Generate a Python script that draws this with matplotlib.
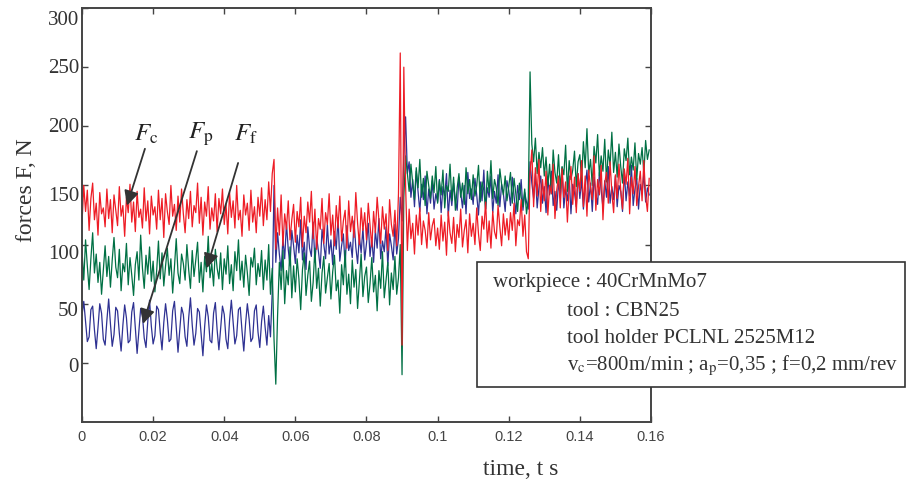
import numpy as np
import matplotlib
matplotlib.use("Agg")
import matplotlib.pyplot as plt
from matplotlib.patches import Rectangle
from matplotlib.transforms import offset_copy

plt.rcParams['font.family'] = ['Liberation Serif', 'DejaVu Serif']
plt.rcParams['mathtext.fontset'] = 'stix'

# sample spacing of the recorded signals, s
dt = 0.0005

# cutting force F_c (red), N
fc = [118, 150, 128, 146, 112, 139, 152, 121, 135, 108, 144, 126, 131, 115, 147, 122, 138, 110, 142, 129,
      116, 149, 124, 133, 107, 140, 127, 151, 119, 136, 111, 145, 123, 130, 114, 148, 120, 137, 109, 141,
      125, 132, 113, 146, 121, 139, 106, 143, 128, 117, 150, 124, 134, 112, 141, 119, 147, 126, 110, 138,
      122, 145, 115, 133, 127, 152, 118, 140, 108, 136, 124, 149, 113, 131, 120, 143, 111, 139, 126, 147,
      117, 134, 109, 144, 123, 137, 114, 150, 121, 129, 107, 142, 125, 135, 112, 146, 119, 132, 110, 140,
      124, 148, 116, 138, 121, 153, 128, 160, 172, 96, 131, 108, 142, 99, 126, 113, 137, 104, 121, 134,
      102, 128, 115, 140, 98, 124, 110, 136, 119, 145, 105, 130, 96, 122, 113, 139, 101, 127, 117, 143,
      108, 125, 99, 133, 114, 141, 103, 120, 129, 97, 137, 111, 124, 106, 144, 118, 100, 131, 112, 127,
      104, 135, 116, 98, 128, 110, 140, 121, 101, 132, 113, 126, 95, 138, 117, 107, 129, 99, 143, 262,
      15, 250, 150, 95, 130, 105, 118, 92, 125, 108, 131, 100, 120, 112, 97, 127, 104, 116, 122, 99,
      114, 96, 125, 103, 119, 91, 128, 110, 101, 123, 94, 117, 106, 130, 98, 112, 121, 93, 126, 107,
      118, 100, 131, 109, 95, 124, 113, 136, 102, 120, 97, 128, 111, 105, 133, 115, 99, 126, 108, 122,
      104, 127, 112, 135, 99, 121, 116, 138, 107, 125, 94, 88, 160, 180, 132, 165, 141, 172, 128, 155,
      137, 162, 125, 150, 143, 168, 122, 146, 158, 131, 164, 140, 153, 119, 149, 166, 134, 157, 127, 160,
      145, 171, 132, 158, 124, 163, 148, 138, 175, 129, 155, 142, 167, 121, 152, 161, 135, 170, 144, 127,
      159, 139, 168, 146, 130, 164, 151, 173, 126, 157, 143, 166, 133, 149, 162, 137, 171, 141, 128, 156]

# passive force F_p (blue), N
fp = [40, 52, 35, 18, 22, 45, 48, 28, 12, 30, 50, 42, 20, 15, 36, 54, 33, 14, 24, 47,
      44, 25, 10, 32, 49, 38, 17, 19, 43, 51, 29, 8, 27, 46, 40, 21, 13, 35, 53, 31,
      16, 23, 48, 45, 26, 11, 34, 50, 37, 18, 20, 44, 52, 30, 9, 28, 47, 41, 22, 14,
      38, 55, 32, 15, 25, 46, 43, 24, 6, 31, 49, 39, 19, 17, 42, 51, 28, 11, 29, 48,
      41, 20, 12, 36, 53, 34, 16, 23, 45, 47, 27, 10, 33, 50, 37, 18, 21, 44, 49, 26,
      13, 35, 48, 30, 15, 40, 22, 60, 150, 85, 110, 92, 78, 105, 88, 118, 96, 82, 112, 99,
      84, 108, 93, 121, 87, 102, 79, 115, 97, 90, 119, 85, 106, 94, 80, 113, 100, 88, 117, 92,
      104, 83, 111, 96, 123, 86, 99, 109, 81, 116, 95, 102, 89, 120, 98, 84, 107, 93, 114, 87,
      101, 118, 90, 106, 85, 112, 97, 122, 88, 103, 94, 115, 82, 109, 99, 87, 117, 92, 105, 140,
      120, 175, 208, 160, 170, 140, 155, 132, 162, 145, 128, 151, 138, 158, 126, 147, 135, 154, 130, 143,
      136, 155, 127, 149, 141, 160, 124, 146, 133, 152, 138, 129, 157, 144, 131, 150, 126, 161, 139, 147,
      134, 156, 142, 125, 153, 137, 163, 130, 148, 140, 158, 127, 145, 135, 159, 132, 151, 143, 128, 154,
      146, 133, 157, 141, 126, 150, 138, 155, 129, 144, 136, 130, 170, 152, 139, 160, 131, 148, 158, 135,
      149, 127, 156, 142, 162, 133, 145, 129, 153, 140, 165, 131, 147, 137, 158, 126, 151, 144, 132, 160,
      139, 155, 130, 148, 163, 136, 152, 128, 157, 143, 134, 161, 146, 131, 154, 140, 166, 135, 149, 138,
      158, 132, 150, 145, 128, 162, 137, 153, 141, 167, 133, 147, 156, 130, 151, 143, 160, 136, 148, 142]

# feed force F_f (green), N
ff = [95, 70, 104, 82, 62, 88, 110, 76, 92, 68, 85, 58, 79, 99, 73, 90, 64, 87, 106, 81,
      72, 96, 61, 84, 77, 101, 66, 89, 74, 57, 83, 94, 70, 108, 80, 63, 91, 75, 98, 69,
      86, 60, 78, 103, 71, 93, 65, 82, 97, 74, 88, 59, 81, 105, 76, 67, 92, 84, 70, 100,
      79, 63, 95, 73, 87, 102, 68, 85, 60, 90, 77, 107, 72, 84, 65, 96, 80, 71, 93, 62,
      88, 75, 99, 67, 83, 61, 94, 78, 104, 70, 86, 64, 91, 76, 57, 89, 81, 97, 66, 84,
      73, 95, 62, 87, 70, 100, 58, 80, 20, -18, 40, 85, 62, 95, 50, 78, 66, 98, 55, 82,
      60, 88, 71, 45, 79, 93, 57, 74, 86, 52, 68, 97, 63, 80, 48, 76, 90, 59, 72, 84,
      54, 77, 91, 61, 70, 42, 83, 66, 95, 58, 75, 50, 87, 64, 79, 46, 69, 92, 56, 73,
      81, 51, 67, 89, 60, 74, 44, 78, 63, 94, 55, 70, 85, 49, 76, 62, 90, 58, 72, 100,
      -10, 140, 175, 160, 145, 168, 152, 138, 165, 148, 172, 140, 156, 133, 162, 150, 139, 158, 144, 166,
      135, 154, 142, 163, 131, 150, 145, 168, 137, 157, 129, 148, 160, 140, 152, 134, 165, 143, 155, 138,
      159, 141, 150, 167, 136, 153, 146, 130, 162, 144, 171, 139, 155, 148, 133, 164, 151, 142, 158, 137,
      149, 161, 135, 156, 143, 128, 152, 140, 132, 147, 126, 138, 246, 185, 170, 190, 160, 178, 165, 182,
      158, 174, 150, 168, 143, 180, 161, 152, 176, 147, 166, 159, 184, 145, 171, 155, 163, 179, 149, 170,
      176, 154, 187, 165, 198, 160, 172, 150, 183, 169, 193, 158, 175, 162, 189, 153, 180, 167, 195, 161,
      178, 157, 185, 166, 152, 181, 171, 190, 159, 174, 163, 186, 155, 177, 168, 182, 160, 188, 172, 180]

x_ticks = [0, 0.02, 0.04, 0.06, 0.08, 0.1, 0.12, 0.14, 0.16]
x_labels = ['0', '0.02', '0.04', '0.06', '0.08', '0.1', '0.12', '0.14', '0.16']
y_ticks = [0, 50, 100, 150, 200, 250, 300]

info_lines = ['workpiece : 40CrMnMo7',
              'tool : CBN25',
              'tool holder PCLNL 2525M12',
              r'v$_{\rm c}$=800m/min ; a$_{\rm p}$=0,35 ; f=0,2 mm/rev']

t = np.arange(len(fc)) * dt

fig = plt.figure(figsize=(9.06, 4.85), dpi=100)
ax = fig.add_axes([0.0905, 0.1278, 0.628, 0.8536])

ax.plot(t, fp, color='#2e3192', lw=0.9)
ax.plot(t, ff, color='#007044', lw=0.9)
ax.plot(t, fc, color='#ee1c25', lw=0.9)

ax.set_xlim(0, 0.16)
ax.set_ylim(-50, 300)
ax.set_xticks(x_ticks)
ax.set_xticklabels(x_labels, family='Liberation Sans', fontsize=10.5, color='#444444')
ax.set_yticks(y_ticks)
ax.set_yticklabels([])
ax.tick_params(direction='in', length=4, width=1, color='#444444',
               top=True, right=True)
ax.tick_params(axis='x', pad=5)
for s in ax.spines.values():
    s.set_color('#444444')
    s.set_linewidth(1.4)

# y labels in the original sit a little below some of their ticks (pixels)
label_drop = [4, 7, 9, 10, 0, 0, 11]
for v, d in zip(y_ticks, label_drop):
    tr = offset_copy(ax.get_yaxis_transform(), fig=fig, x=-3, y=-d, units='dots')
    ax.text(0, v, str(v), transform=tr, fontsize=15, ha='right', va='center',
            color='#333333')

# force labels with arrows
arrow_kw = dict(arrowstyle='-|>', mutation_scale=22, color='#333333', lw=1.3,
                shrinkA=0, shrinkB=0)
ax.annotate('', xy=(0.01265, 133), xytext=(0.0177, 181), arrowprops=arrow_kw)
ax.annotate('', xy=(0.01715, 33), xytext=(0.0323, 179), arrowprops=arrow_kw)
ax.annotate('', xy=(0.0351, 80), xytext=(0.0439, 169), arrowprops=arrow_kw)
ax.text(0.0180, 194, r'$F_{\rm c}$', fontsize=18, ha='center', va='center', color='#222222')
ax.text(0.0333, 194, r'$F_{\rm p}$', fontsize=18, ha='center', va='center', color='#222222')
ax.text(0.0460, 194, r'$F_{\rm f}$', fontsize=18, ha='center', va='center', color='#222222')

fig.text(27 / 906, 1 - 190 / 485, 'forces F, N', rotation=90, fontsize=17,
         ha='center', va='center', color='#333333')
fig.text(521 / 906, 1 - 470 / 485, 'time, t s', fontsize=17,
         ha='center', va='center', color='#333333')

# info box
fig.add_artist(Rectangle((477 / 906, 1 - 388 / 485), 428 / 906, 125 / 485,
                         transform=fig.transFigure, facecolor='white',
                         edgecolor='#333333', lw=1.2))
fig.text(493 / 906, 1 - 282 / 485, info_lines[0], fontsize=15, va='center', color='#333333')
for i, line in enumerate(info_lines[1:]):
    fig.text(567 / 906, 1 - (311 + 27.5 * i) / 485, line, fontsize=15,
             va='center', color='#333333')

fig.savefig('out.png', dpi=100)
